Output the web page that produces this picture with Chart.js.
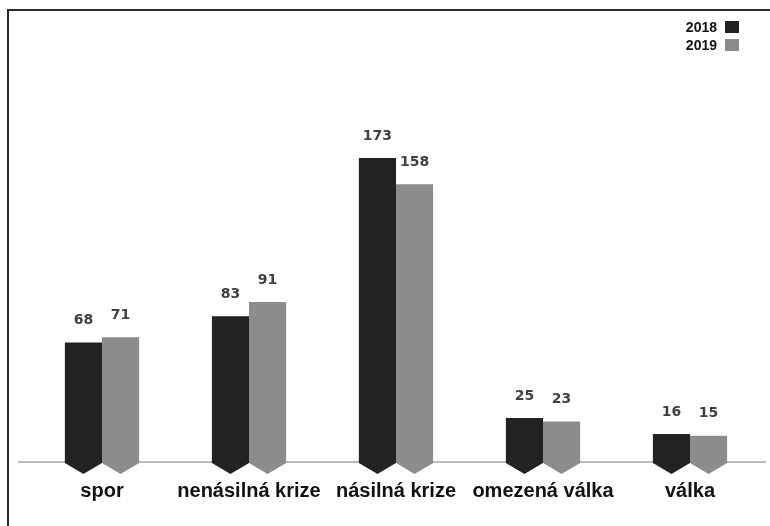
<!DOCTYPE html>
<html>
<head>
<meta charset="utf-8">
<script src="https://cdn.jsdelivr.net/npm/chart.js@4/dist/chart.umd.min.js"></script>
<style>
    html, body { margin: 0; padding: 0; background: #fff; }
    #wrap { position: relative; width: 770px; height: 526px; overflow: hidden; }
    #frame {
        position: absolute; left: 7px; top: 9px; width: 900px; height: 700px;
        border-left: 2px solid #2a2a2a; border-top: 2px solid #2a2a2a;
    }
    #legend { position: absolute; right: 31px; top: 18px; font: bold 14px 'Liberation Sans', Arial, sans-serif; color: #111; }
    .item { display: flex; align-items: center; justify-content: flex-end; height: 18px; }
    .box { width: 14px; height: 12px; margin-left: 8px; }
    canvas { position: absolute; left: 0; top: 0; }
</style>
</head>
<body>
<div id="wrap">
    <div id="frame"></div>
    <canvas id="chart" width="770" height="526"></canvas>
    <div id="legend"></div>
</div>
<script>
const categories = ['spor', 'nenásilná krize', 'násilná krize', 'omezená válka', 'válka'];
const years = ['2018', '2019'];
const values2018 = [68, 83, 173, 25, 16];
const values2019 = [71, 91, 158, 23, 15];
const colors = ['#222222', '#8c8c8c'];

// legend in html, box on the right of the text
const legendEl = document.getElementById('legend');
years.forEach((y, i) => {
    legendEl.innerHTML += `<div class="item"><span>${y}</span><span class="box" style="background:${colors[i]}"></span></div>`;
});

/**
 * Baseline drawn under the bars
 */
const baselinePlugin = {
    id: 'baseline',
    beforeDatasetsDraw(chart) {
        const ctx = chart.ctx;
        const y0 = chart.scales.y.getPixelForValue(0);
        ctx.save();
        ctx.strokeStyle = '#a6a6a6';
        ctx.lineWidth = 1.5;
        ctx.beginPath();
        ctx.moveTo(18, y0);
        ctx.lineTo(chart.width - 4, y0);
        ctx.stroke();
        ctx.restore();
    }
};

/**
 * Arrow tips below the axis, value labels and category names
 */
const decorPlugin = {
    id: 'decor',
    afterDatasetsDraw(chart) {
        const ctx = chart.ctx;
        const y0 = chart.scales.y.getPixelForValue(0);
        ctx.save();
        chart.data.datasets.forEach((ds, di) => {
            const meta = chart.getDatasetMeta(di);
            meta.data.forEach((bar, i) => {
                const half = bar.width / 2;
                ctx.fillStyle = ds.backgroundColor;
                ctx.beginPath();
                ctx.moveTo(bar.x - half, y0 - 1);
                ctx.lineTo(bar.x - half, y0 + 1);
                ctx.lineTo(bar.x, y0 + 12);
                ctx.lineTo(bar.x + half, y0 + 1);
                ctx.lineTo(bar.x + half, y0 - 1);
                ctx.closePath();
                ctx.fill();

                ctx.fillStyle = '#404040';
                ctx.font = 'bold 14px "DejaVu Sans", sans-serif';
                ctx.textAlign = 'center';
                ctx.textBaseline = 'middle';
                ctx.fillText(ds.data[i], bar.x, bar.y - 22);
            });
        });

        const x = chart.scales.x;
        ctx.fillStyle = '#111';
        ctx.font = 'bold 20px "Liberation Sans", sans-serif';
        ctx.textAlign = 'center';
        ctx.textBaseline = 'middle';
        categories.forEach((c, i) => {
            ctx.fillText(c, x.getPixelForValue(i), y0 + 29);
        });
        ctx.restore();
    }
};

new Chart(document.getElementById('chart'), {
    type: 'bar',
    data: {
        labels: categories,
        datasets: [
            { label: years[0], data: values2018, backgroundColor: colors[0] },
            { label: years[1], data: values2019, backgroundColor: colors[1] }
        ]
    },
    options: {
        responsive: false,
        animation: false,
        layout: {
            padding: { left: 28.5, right: 6.5, top: 110.5, bottom: 64 }
        },
        datasets: {
            bar: { barPercentage: 1, categoryPercentage: 0.505 }
        },
        plugins: {
            legend: { display: false },
            tooltip: { enabled: false }
        },
        scales: {
            x: { display: false },
            y: { display: false, min: 0, max: 200 }
        }
    },
    plugins: [baselinePlugin, decorPlugin]
});
</script>
</body>
</html>
